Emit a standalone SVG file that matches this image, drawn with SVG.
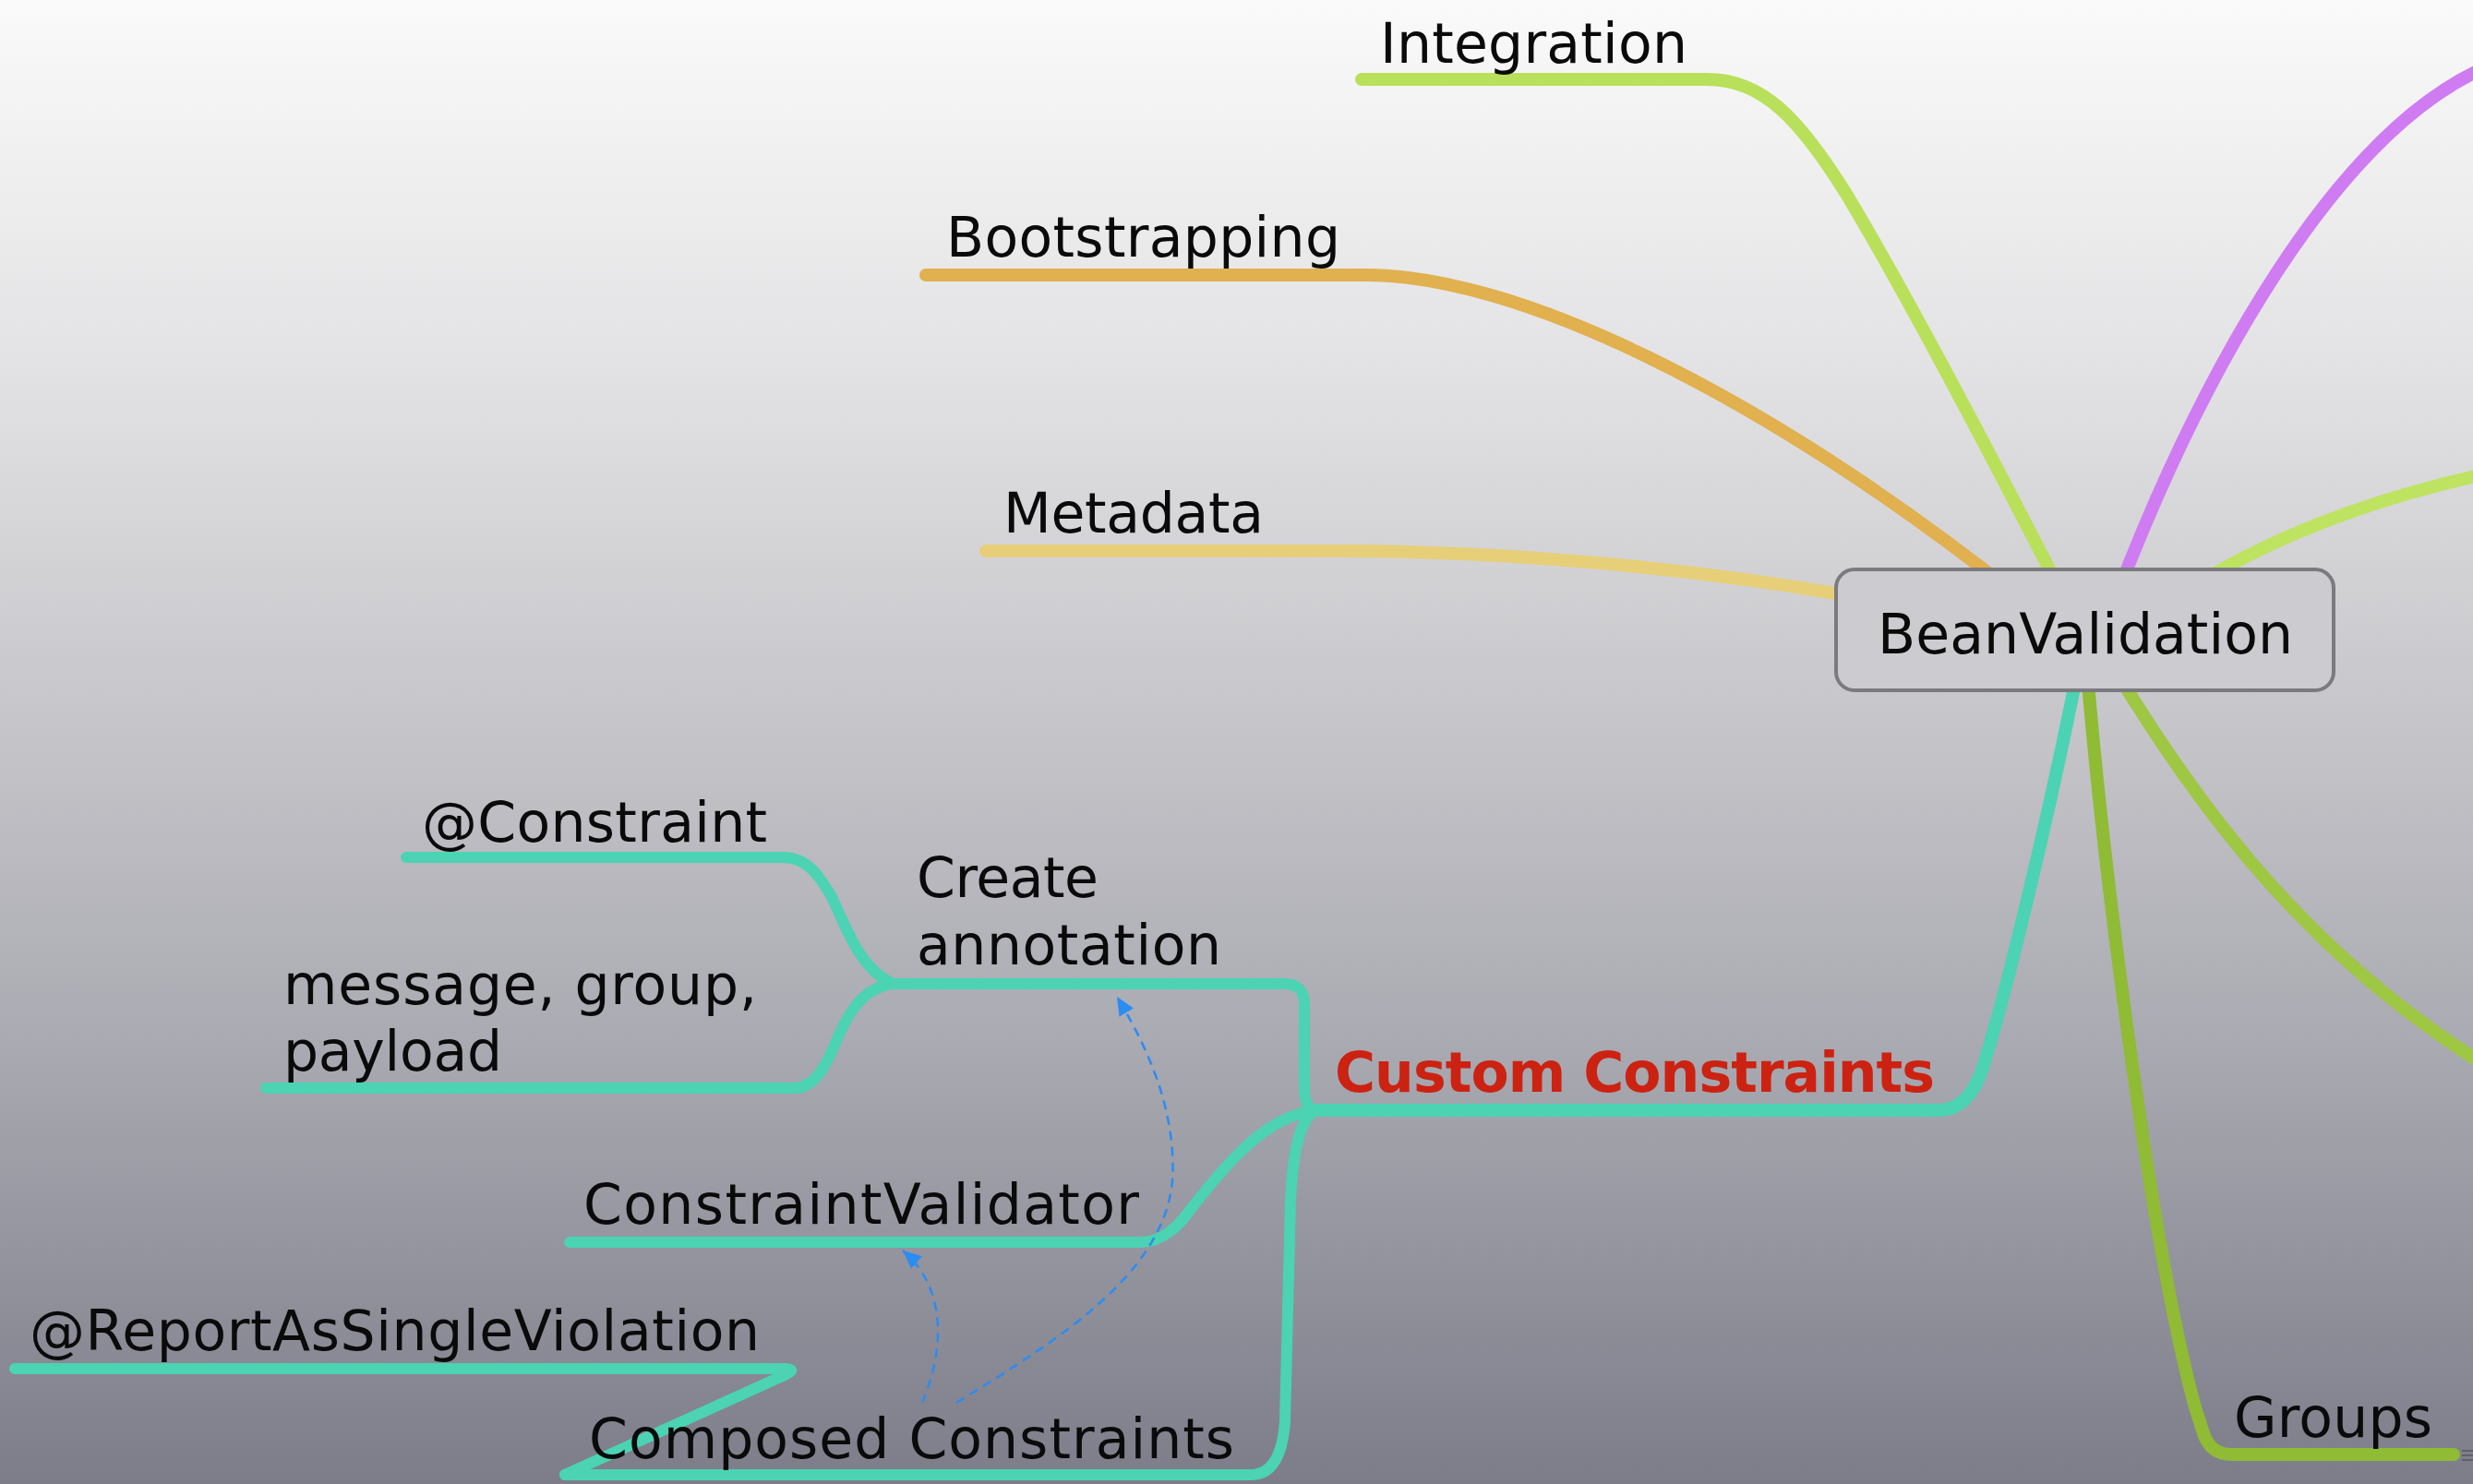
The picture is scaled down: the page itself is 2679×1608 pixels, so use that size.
<svg xmlns="http://www.w3.org/2000/svg" width="2679" height="1608" viewBox="0 0 2679 1608">
  <defs>
    <linearGradient id="bg" x1="0" y1="0" x2="0" y2="1">
      <stop offset="0" stop-color="#fafafa"/>
      <stop offset="0.25" stop-color="#e2e2e4"/>
      <stop offset="0.45" stop-color="#cacace"/>
      <stop offset="0.7" stop-color="#aaaab2"/>
      <stop offset="1" stop-color="#7c7d89"/>
    </linearGradient>
    <marker id="arrow" markerUnits="userSpaceOnUse" markerWidth="22" markerHeight="18" refX="20" refY="9" orient="auto">
      <path d="M0,0 L20,9 L0,18 Z" fill="#2b8cf2"/>
    </marker>
    <style>
      .lbl { font-family: "DejaVu Sans", "Liberation Sans", sans-serif; font-size: 60px; fill: #0a0a0a; }
      .main { font-family: "DejaVu Sans", "Liberation Sans", sans-serif; font-size: 60px; font-weight: bold; fill: #cc2211; }
      .br { fill: none; stroke-linecap: round; stroke-linejoin: round; stroke-width: 14; }
      .teal { fill: none; stroke: #4bd3b3; stroke-linecap: round; stroke-linejoin: round; stroke-width: 12; }
      .dash { fill: none; stroke: #2b8cf2; stroke-width: 2.5; stroke-dasharray: 10 7; }
    </style>
  </defs>

  <rect x="0" y="0" width="2679" height="1608" fill="url(#bg)"/>

  <!-- connectors -->
  <g id="connectors">
    <!-- branches from the central topic -->
    <path class="br" stroke="#b9e05a" stroke-width="13" d="M1475,86 H1850 C1910,86 1950,130 2000,210 C2060,310 2150,480 2232,640"/>
    <path class="br" stroke="#e1b04f" d="M1003,298 H1480 C1640,298 1900,420 2185,645"/>
    <path class="br" stroke="#e6cf78" d="M1068,597 H1450 C1600,597 1800,610 2000,645"/>
    <path class="br" stroke="#cf7cf2" d="M2295,640 C2380,420 2530,130 2710,66"/>
    <path class="br" stroke="#bde361" d="M2385,630 C2450,590 2560,540 2710,510"/>
    <path class="br" stroke="#9ec743" d="M2300,740 C2380,870 2500,1040 2710,1165"/>
    <path class="br" stroke="#8fbb35" d="M2262,740 C2280,950 2330,1350 2378,1525 L2388,1556 Q2396,1576 2418,1576 H2658"/>
    <path class="br" stroke="#4bd3b3" stroke-width="13" d="M2248,740 C2220,880 2175,1070 2150,1150 Q2135,1203 2100,1203 H1425"/>

    <!-- Custom Constraints children -->
    <path class="teal" d="M1425,1203 C1412,1200 1413,1185 1413,1170 V1088 Q1413,1066 1391,1066 H968"/>
    <path class="teal" d="M1425,1203 C1370,1210 1330,1260 1290,1310 Q1265,1346 1235,1346 H617"/>
    <path class="teal" d="M1425,1203 C1405,1215 1400,1260 1398,1300 L1392,1540 Q1388,1598 1355,1598 H612"/>

    <!-- Create annotation children -->
    <path class="teal" d="M440,929 H848 C875,929 888,950 900,970 C915,1000 930,1050 968,1066"/>
    <path class="teal" d="M288,1179 H860 C880,1179 893,1160 905,1130 C920,1095 935,1070 968,1066"/>

    <!-- Composed Constraints child -->
    <path class="teal" d="M612,1598 L852,1489 Q864,1483 848,1483 H16"/>

    <!-- relationships -->
    <path class="dash" marker-end="url(#arrow)" d="M1036,1520 C1150,1450 1260,1380 1270,1280 C1275,1200 1240,1130 1210,1080"/>
    <path class="dash" marker-end="url(#arrow)" d="M999,1520 C1020,1470 1030,1400 978,1355"/>
  </g>

  <!-- nodes -->
  <g id="node-beanvalidation">
    <rect x="1989" y="617" width="539" height="131" rx="20" fill="#cbcbd0" stroke="#7a7a7f" stroke-width="4"/>
    <text class="lbl" x="2034" y="708" textLength="450">BeanValidation</text>
  </g>
  <g id="node-integration">
    <text class="lbl" x="1495" y="68" textLength="333">Integration</text>
  </g>
  <g id="node-bootstrapping">
    <text class="lbl" x="1025" y="278" textLength="427">Bootstrapping</text>
  </g>
  <g id="node-metadata">
    <text class="lbl" x="1087" y="577" textLength="282">Metadata</text>
  </g>
  <g id="node-custom-constraints">
    <text class="main" x="1446" y="1183" textLength="650">Custom Constraints</text>
  </g>
  <g id="node-create-annotation">
    <text class="lbl" x="993" y="972" textLength="197">Create</text>
    <text class="lbl" x="993" y="1045" textLength="330">annotation</text>
  </g>
  <g id="node-constraint">
    <text class="lbl" x="457" y="912" textLength="374">@Constraint</text>
  </g>
  <g id="node-message-group-payload">
    <text class="lbl" x="307" y="1088" textLength="513">message, group,</text>
    <text class="lbl" x="307" y="1160" textLength="237">payload</text>
  </g>
  <g id="node-constraintvalidator">
    <text class="lbl" x="632" y="1326" textLength="602">ConstraintValidator</text>
  </g>
  <g id="node-report-as-single">
    <text class="lbl" x="32" y="1463" textLength="791">@ReportAsSingleViolation</text>
  </g>
  <g id="node-composed-constraints">
    <text class="lbl" x="638" y="1580" textLength="699">Composed Constraints</text>
  </g>
  <g id="node-groups">
    <text class="lbl" x="2420" y="1557" textLength="215">Groups</text>
    <g stroke="#555560" stroke-width="1.5">
      <line x1="2667" y1="1572" x2="2679" y2="1572"/>
      <line x1="2667" y1="1577" x2="2679" y2="1577"/>
      <line x1="2667" y1="1582" x2="2679" y2="1582"/>
    </g>
  </g>
</svg>
